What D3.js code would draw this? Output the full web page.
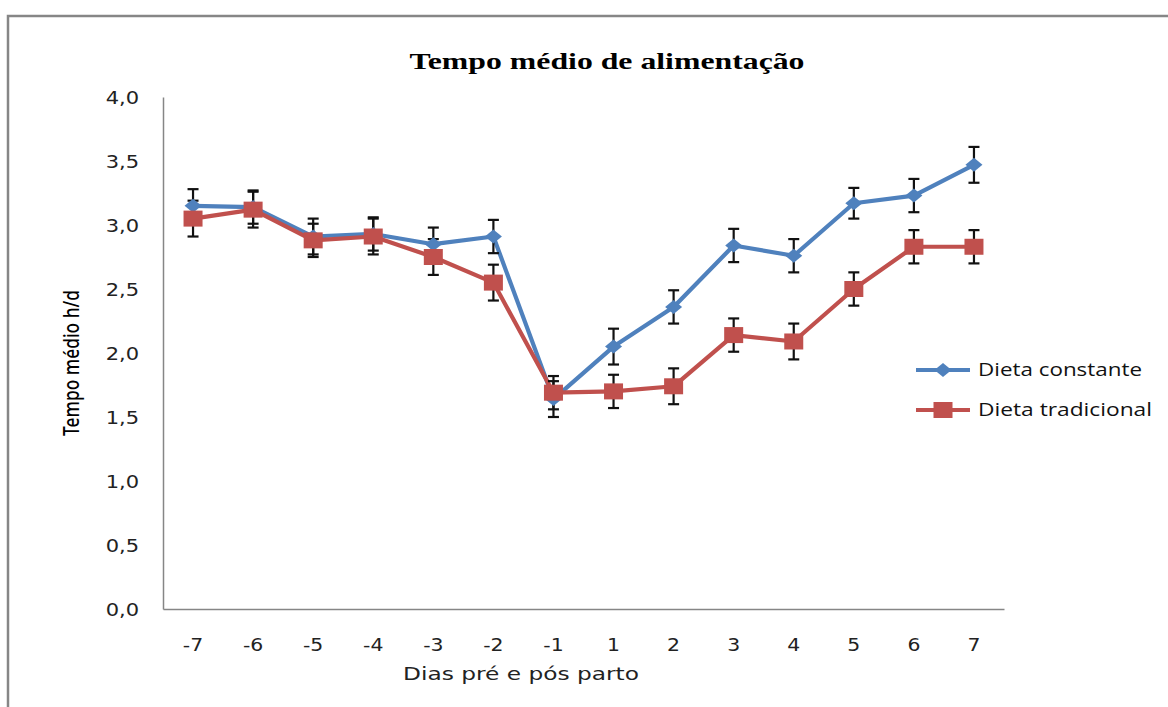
<!DOCTYPE html>
<html>
<head>
<meta charset="utf-8">
<script src="https://cdn.jsdelivr.net/npm/d3@7"></script>
<style>
  html, body { margin: 0; padding: 0; background: #fff; }
  svg { display: block; }
</style>
</head>
<body>
<svg id="chart" width="1168" height="707"></svg>
<script>
// dias relativos ao parto
const days = ["-7", "-6", "-5", "-4", "-3", "-2", "-1", "1", "2", "3", "4", "5", "6", "7"];
const constante = [3.15, 3.14, 2.91, 2.93, 2.85, 2.91, 1.64, 2.05, 2.36, 2.84, 2.76, 3.17, 3.23, 3.47];
const tradicional = [3.05, 3.12, 2.88, 2.91, 2.75, 2.55, 1.69, 1.70, 1.74, 2.14, 2.09, 2.50, 2.83, 2.83];
const errConstante = [0.13, 0.13, 0.14, 0.13, 0.13, 0.13, 0.14, 0.14, 0.13, 0.13, 0.13, 0.12, 0.13, 0.14];
const errTradicional = [0.14, 0.14, 0.13, 0.14, 0.14, 0.14, 0.13, 0.13, 0.14, 0.13, 0.14, 0.13, 0.13, 0.13];
const yTicks = [0, 0.5, 1, 1.5, 2, 2.5, 3, 3.5, 4];
const seriesNames = ["Dieta constante", "Dieta tradicional"];

const blue = "#4f81bd", red = "#c0504d", axisGrey = "#868686";
const stretch = 1.2; // o gráfico original está esticado na horizontal

const svg = d3.select("#chart");

svg.append("rect")
  .attr("x", 8).attr("y", 16)
  .attr("width", 1300).attr("height", 900)
  .attr("fill", "none")
  .attr("stroke", axisGrey)
  .attr("stroke-width", 2.5);

const x = d3.scaleBand().domain(days).range([163, 1004]).padding(0);
const y = d3.scaleLinear().domain([0, 4]).range([609, 97]);
const cx = d => x(d) + x.bandwidth() / 2;
const fmt = v => d3.format(".1f")(v).replace(".", ",");

// eixos
const gy = svg.append("g").attr("transform", "translate(163,0)")
  .call(d3.axisLeft(y).tickValues(yTicks).tickSize(0).tickPadding(0).tickFormat(fmt));
gy.select(".domain").attr("stroke", axisGrey).attr("stroke-width", 1.5);
gy.selectAll(".tick text")
  .attr("x", 0).attr("dy", "0.36em")
  .attr("transform", `translate(-24,0) scale(${stretch},1)`)
  .attr("font-family", "DejaVu Sans").attr("font-size", 17.5).attr("fill", "#222");

const gx = svg.append("g").attr("transform", "translate(0,609)")
  .call(d3.axisBottom(x).tickSize(0).tickPadding(0));
gx.select(".domain").attr("stroke", axisGrey).attr("stroke-width", 1.5);
gx.selectAll(".tick text")
  .attr("y", 0).attr("dy", 0)
  .attr("transform", `translate(0,42) scale(${stretch},1)`)
  .attr("font-family", "DejaVu Sans").attr("font-size", 17).attr("fill", "#222");

// títulos
svg.append("text")
  .attr("x", 607).attr("y", 69)
  .attr("text-anchor", "middle")
  .attr("font-family", "Liberation Serif").attr("font-weight", "bold").attr("font-size", 23)
  .attr("textLength", 395).attr("lengthAdjust", "spacingAndGlyphs")
  .text("Tempo médio de alimentação");

svg.append("text")
  .attr("transform", "translate(79,363) rotate(-90)")
  .attr("text-anchor", "middle")
  .attr("font-family", "Noto Sans").attr("font-weight", 500).attr("font-size", 22)
  .attr("textLength", 146).attr("lengthAdjust", "spacingAndGlyphs")
  .text("Tempo médio h/d");

svg.append("text")
  .attr("x", 521).attr("y", 680)
  .attr("text-anchor", "middle")
  .attr("font-family", "DejaVu Sans").attr("font-size", 18).attr("fill", "#222")
  .attr("textLength", 236).attr("lengthAdjust", "spacingAndGlyphs")
  .text("Dias pré e pós parto");

// séries
const series = [
  { name: seriesNames[0], values: constante, err: errConstante, color: blue, shape: "diamond" },
  { name: seriesNames[1], values: tradicional, err: errTradicional, color: red, shape: "square" }
];

const line = d3.line().x(d => cx(d.day)).y(d => y(d.v));
const diamond = "M0,-7L8.5,0L0,7L-8.5,0Z";

function marker(g, s) {
  if (s.shape === "diamond") {
    g.append("path").attr("d", diamond).attr("fill", s.color);
  } else {
    g.append("rect").attr("x", -9.5).attr("y", -8).attr("width", 19).attr("height", 16).attr("fill", s.color);
  }
}

series.forEach(s => {
  const pts = days.map((day, i) => ({ day, v: s.values[i], e: s.err[i] }));
  svg.append("path")
    .datum(pts)
    .attr("d", line)
    .attr("fill", "none")
    .attr("stroke", s.color)
    .attr("stroke-width", 4.2)
    .attr("stroke-linejoin", "round");
  s.pts = pts;
});

series.forEach(s => {
  const eb = svg.append("g").attr("stroke", "#111").attr("stroke-width", 2.2);
  s.pts.forEach(p => {
    const px = cx(p.day);
    eb.append("line").attr("x1", px).attr("x2", px).attr("y1", y(p.v + p.e)).attr("y2", y(p.v - p.e));
    eb.append("line").attr("x1", px - 5.5).attr("x2", px + 5.5).attr("y1", y(p.v + p.e)).attr("y2", y(p.v + p.e));
    eb.append("line").attr("x1", px - 5.5).attr("x2", px + 5.5).attr("y1", y(p.v - p.e)).attr("y2", y(p.v - p.e));
  });
});

series.forEach(s => {
  s.pts.forEach(p => {
    const g = svg.append("g").attr("transform", `translate(${cx(p.day)},${y(p.v)})`);
    marker(g, s);
  });
});

// legenda
series.forEach((s, i) => {
  const ly = 370 + i * 40;
  const g = svg.append("g").attr("transform", `translate(916,${ly})`);
  g.append("line").attr("x1", 0).attr("x2", 54).attr("y1", 0).attr("y2", 0)
    .attr("stroke", s.color).attr("stroke-width", 4.2);
  const m = g.append("g").attr("transform", "translate(27,0)");
  marker(m, s);
  g.append("text")
    .attr("x", 62).attr("y", 0).attr("dy", "0.35em")
    .attr("font-family", "Open Sans").attr("font-size", 18.5).attr("fill", "#111")
    .attr("textLength", i === 0 ? 164 : 174).attr("lengthAdjust", "spacingAndGlyphs")
    .text(s.name);
});
</script>
</body>
</html>
